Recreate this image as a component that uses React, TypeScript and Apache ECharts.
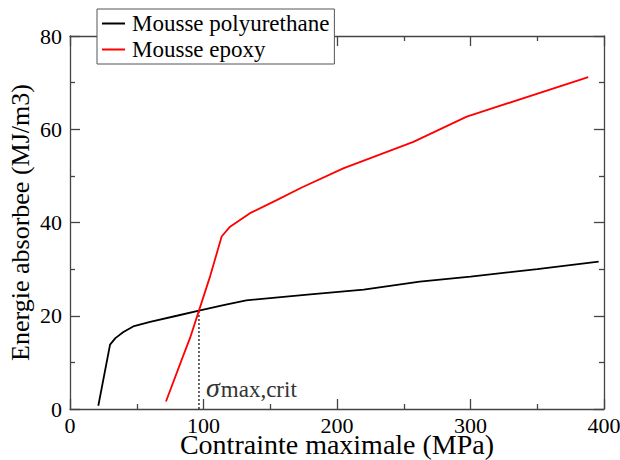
import React, { useEffect, useRef } from "react";
import * as echarts from "echarts";

const seriesNames = ["Mousse polyurethane", "Mousse epoxy"];
const xTitle = "Contrainte maximale (MPa)";
const yTitle = "Energie absorbee (MJ/m3)";

// [contrainte (MPa), energie (MJ/m3)]
const polyurethane: [number, number][] = [
  [21.2, 0.7], [30, 13.8], [34, 15.2], [40, 16.5], [48, 17.8], [60, 18.7],
  [80, 20], [96.6, 21.1], [115, 22.3], [132, 23.3], [180, 24.6], [220, 25.6],
  [262, 27.3], [300, 28.4], [350, 30], [396, 31.6],
];
const epoxy: [number, number][] = [
  [71.9, 1.6], [83.7, 10.6], [90, 15.3], [96.6, 21.1], [105, 28.5], [113.6, 37.0],
  [119.9, 39.1], [134.8, 42.0], [154.8, 44.8], [173.6, 47.5], [204.7, 51.6],
  [257.2, 57.3], [297.2, 62.7], [388.2, 71.2],
];
const critX = 96.6;
const critY = 21.1;
const critLine: [number, number][] = [[critX, 0], [critX, critY]];

const xMin = 0, xMax = 400, xStep = 100;
const yMin = 0, yMax = 80, yStep = 20;

const FONT = "Liberation Serif";
const AX = "#444";

export default function App() {
  const ref = useRef<HTMLDivElement>(null);
  useEffect(() => {
    if (!ref.current) return;
    const chart = echarts.init(ref.current, undefined, { renderer: "svg" });
    const axisCommon = {
      axisLine: { show: true, onZero: false, lineStyle: { color: AX, width: 1.3 } },
      axisTick: { show: true, inside: true, length: 10, lineStyle: { color: AX, width: 1.3 } },
      minorTick: { show: true, splitNumber: 2, length: 5, lineStyle: { color: AX, width: 1.3 } },
      splitLine: { show: false },
      minorSplitLine: { show: false },
    };
    chart.setOption({
      animation: false,
      backgroundColor: "#fff",
      textStyle: { fontFamily: FONT },
      grid: { left: 70, right: 16, top: 36, bottom: 51, containLabel: false, outerBoundsMode: "none" },
      legend: {
        data: seriesNames,
        orient: "vertical",
        left: 97,
        top: 9,
        padding: [3, 5, 3, 5],
        itemGap: 3,
        itemWidth: 23,
        itemHeight: 2,
        icon: "rect",
        backgroundColor: "#fff",
        borderColor: "#555",
        borderWidth: 1,
        borderRadius: 0,
        textStyle: { fontFamily: FONT, fontSize: 23, color: "#000", padding: [0, 0, 0, 2] },
      },
      xAxis: [
        {
          type: "value", min: xMin, max: xMax, interval: xStep, position: "bottom",
          name: xTitle, nameLocation: "middle", nameGap: 25, nameMoveOverlap: false,
          nameTextStyle: { fontFamily: FONT, fontSize: 28, lineHeight: 20, color: "#000" },
          axisLabel: { fontFamily: FONT, fontSize: 22, lineHeight: 16, color: "#000", margin: 8 },
          ...axisCommon,
        },
        {
          type: "value", min: xMin, max: xMax, interval: xStep, position: "top",
          axisLabel: { show: false },
          ...axisCommon,
        },
      ],
      yAxis: [
        {
          type: "value", min: yMin, max: yMax, interval: yStep, position: "left",
          name: yTitle, nameLocation: "middle", nameGap: 37, nameMoveOverlap: false,
          nameTextStyle: { fontFamily: FONT, fontSize: 26, color: "#000" },
          axisLabel: { fontFamily: FONT, fontSize: 22, color: "#000", margin: 8 },
          ...axisCommon,
        },
        {
          type: "value", min: yMin, max: yMax, interval: yStep, position: "right",
          axisLabel: { show: false },
          ...axisCommon,
        },
      ],
      series: [
        {
          name: seriesNames[0], type: "line", data: polyurethane, symbol: "none",
          color: "#000", lineStyle: { color: "#000", width: 1.8 }, z: 3,
        },
        {
          name: seriesNames[1], type: "line", data: epoxy, symbol: "none",
          color: "#ff0000", lineStyle: { color: "#ff0000", width: 1.8 }, z: 3,
        },
        {
          name: "crit", type: "line", data: critLine, symbol: "none",
          lineStyle: { color: "#000", width: 1.2, type: [2, 2] }, z: 2,
        },
      ],
      graphic: [
        {
          type: "text",
          left: 206,
          top: 373,
          style: {
            text: "{s|σ}{b|max,crit}",
            rich: {
              s: { fontFamily: FONT, fontStyle: "italic", fontSize: 28, fill: "#333", verticalAlign: "bottom" },
              b: { fontFamily: FONT, fontSize: 23, fill: "#333", verticalAlign: "bottom", padding: [0, 0, 0, 1] },
            },
          },
        },
      ],
    });
    return () => chart.dispose();
  }, []);
  return (
    <div
      ref={ref}
      style={{ position: "fixed", left: 0, top: 0, width: 620, height: 460, background: "#fff" }}
    />
  );
}
